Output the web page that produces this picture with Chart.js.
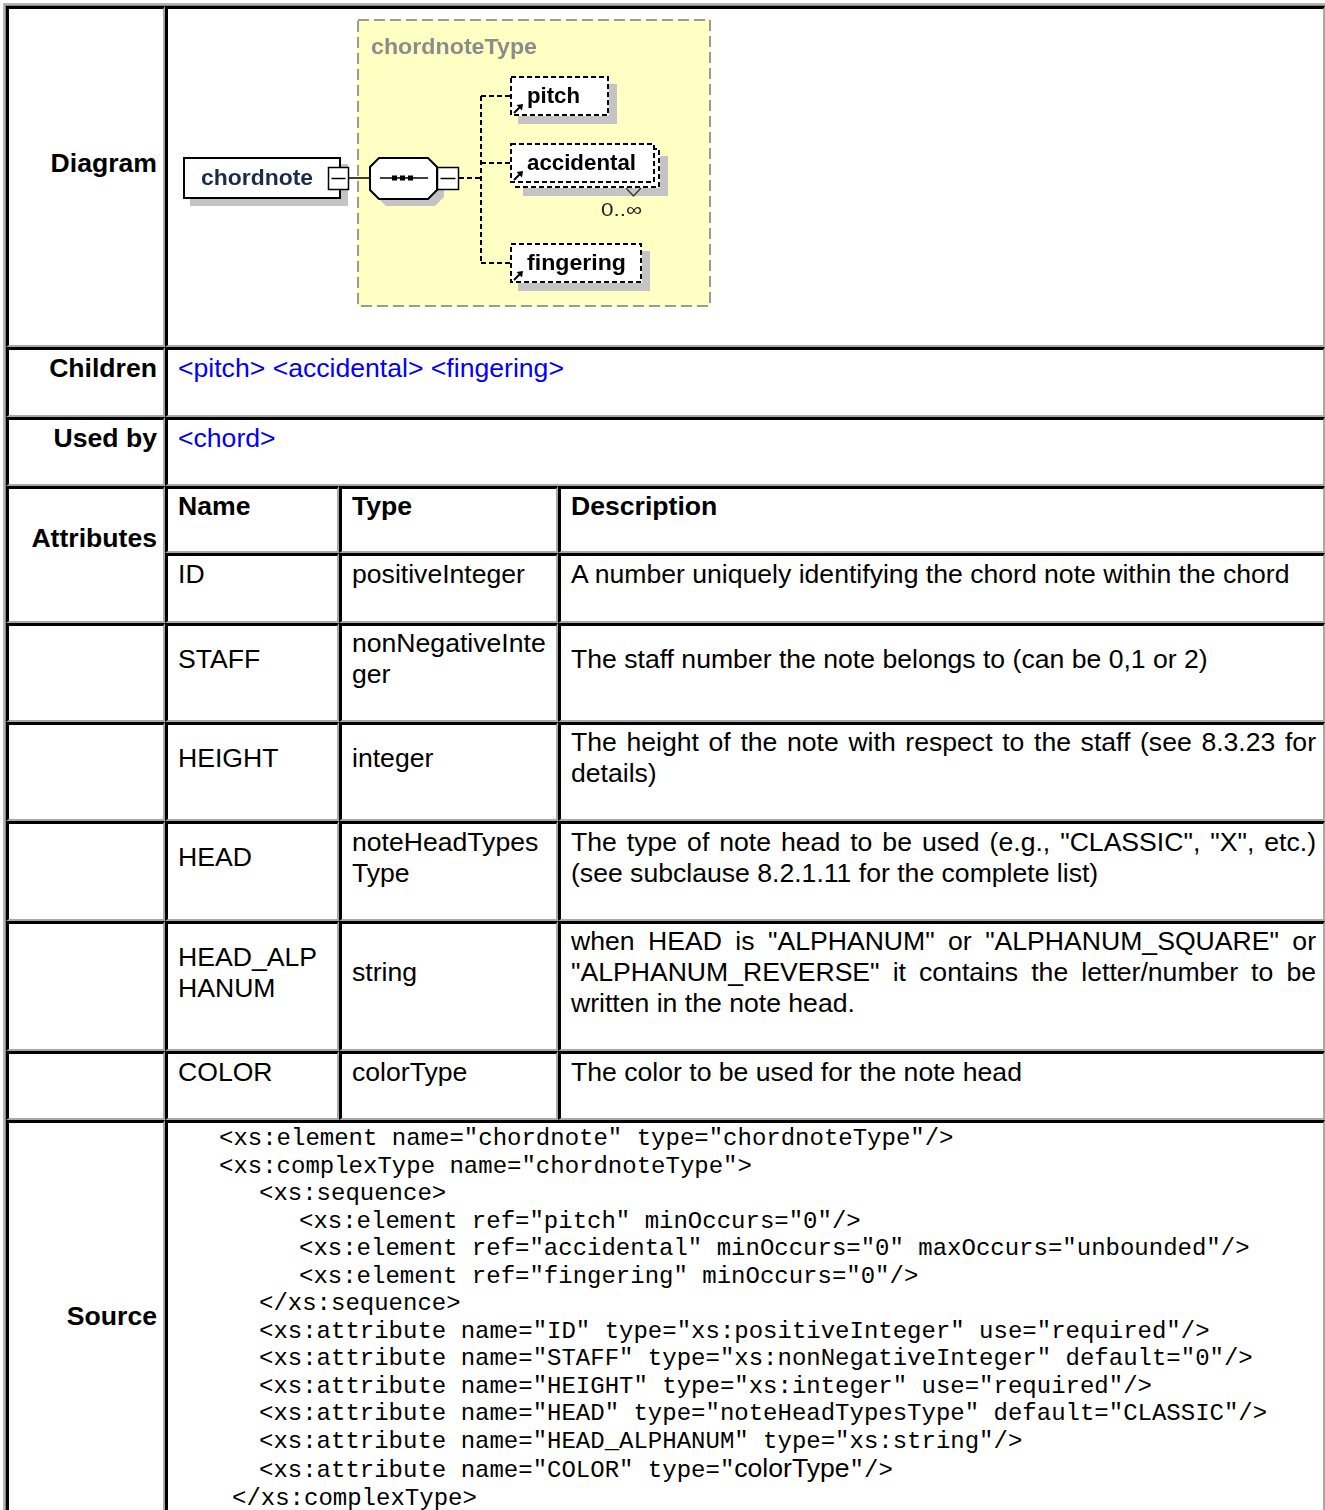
<!DOCTYPE html>
<html>
<head>
<meta charset="utf-8">
<script src="https://cdn.jsdelivr.net/npm/chart.js@4.4.0/dist/chart.umd.min.js"></script>
<style>
  html, body { margin: 0; padding: 0; overflow: hidden; background: #fff; }
  body { width: 1325px; height: 1510px; position: relative; }
  .frame1 { position: absolute; left: 3px; top: 3px; width: 1400px; height: 1600px; border-top: 2px solid #b4b4b4; border-left: 2px solid #b4b4b4; }
  .frame2 { position: absolute; left: 5px; top: 5px; width: 1400px; height: 1600px; border-top: 1px solid #808080; border-left: 1px solid #808080; }
  .c {
    position: absolute; box-sizing: border-box;
    border-top: 3px solid #000; border-left: 3px solid #000;
    border-right: 2px solid #a8a8a8; border-bottom: 2px solid #a8a8a8;
    display: flex; align-items: center;
    padding: 0 8px 28px 10px;
    font-family: "Liberation Sans", Arial, sans-serif; font-size: 26.6px; color: #000;
  }
  .c > div { width: 100%; }
  .lab { justify-content: flex-end; font-weight: bold; padding-right: 6px; }
  .lab > div { width: auto; }
  .tall { padding-bottom: 34px; }
  .head { font-weight: bold; }
  .desc { padding-right: 7px; }
  .j { text-align: justify; text-align-last: justify; }
  .link { color: #0000ff; }
  .code { padding-top: 4px; }
  .src { font-family: "Liberation Mono", "Courier New", monospace; font-size: 24px; line-height: 27.5px; white-space: pre; }
  .sans { font-family: "Liberation Sans", Arial, sans-serif; font-size: 26.6px; }
  #diagram { position: absolute; left: 170px; top: 10px; z-index: 2; }
</style>
</head>
<body>
<div class="frame1"></div>
<div class="frame2"></div>
<canvas id="diagram" width="560" height="330"></canvas>
<script>
// Element documentation for <chordnote>
const elementName = 'chordnote'
const typeName = 'chordnoteType'
const childNames = ['pitch', 'accidental', 'fingering']
const childOccurs = ['', '0..\u221e', '']
const usedBy = ['chord']

const attrNames = [['ID'], ['STAFF'], ['HEIGHT'], ['HEAD'], ['HEAD_ALP', 'HANUM'], ['COLOR']]
const attrTypes = [['positiveInteger'], ['nonNegativeInte', 'ger'], ['integer'], ['noteHeadTypes', 'Type'], ['string'], ['colorType']]
const attrDescs = [
  ['A number uniquely identifying the chord note within the chord'],
  ['The staff number the note belongs to (can be 0,1 or 2)'],
  ['The height of the note with respect to the staff (see 8.3.23 for', 'details)'],
  ['The type of note head to be used (e.g., "CLASSIC", "X", etc.)', '(see subclause 8.2.1.11 for the complete list)'],
  ['when HEAD is "ALPHANUM" or "ALPHANUM_SQUARE" or', '"ALPHANUM_REVERSE" it contains the letter/number to be', 'written in the note head.'],
  ['The color to be used for the note head']
]

const sourceLines = [
  '<xs:element name="chordnote" type="chordnoteType"/>',
  '<xs:complexType name="chordnoteType">',
  '<xs:sequence>',
  '<xs:element ref="pitch" minOccurs="0"/>',
  '<xs:element ref="accidental" minOccurs="0" maxOccurs="unbounded"/>',
  '<xs:element ref="fingering" minOccurs="0"/>',
  '</xs:sequence>',
  '<xs:attribute name="ID" type="xs:positiveInteger" use="required"/>',
  '<xs:attribute name="STAFF" type="xs:nonNegativeInteger" default="0"/>',
  '<xs:attribute name="HEIGHT" type="xs:integer" use="required"/>',
  '<xs:attribute name="HEAD" type="noteHeadTypesType" default="CLASSIC"/>',
  '<xs:attribute name="HEAD_ALPHANUM" type="xs:string"/>',
  '<xs:attribute name="COLOR" type="colorType"/>',
  '</xs:complexType>'
]
const sourceDepth = [1, 1, 2, 3, 3, 3, 2, 2, 2, 2, 2, 2, 2, 0]

// layout of the table
const rowTop = [6, 347, 417, 486, 553, 623, 722, 821, 921, 1051, 1120, 1540]
const colA = [6, 165]
const colB = [165, 1325]
const attrCols = [165, 339, 558, 1325]
const indentPx = { 0: 54, 1: 41, 2: 81, 3: 121 }

function esc (s) {
  return s.replace(/&/g, '&amp;').replace(/</g, '&lt;').replace(/>/g, '&gt;')
}

function cell (x1, y1, x2, y2, html, cls) {
  const d = document.createElement('div')
  d.className = 'c ' + (cls || '')
  d.style.left = x1 + 'px'
  d.style.top = y1 + 'px'
  d.style.width = (x2 - x1) + 'px'
  d.style.height = (y2 - y1) + 'px'
  d.innerHTML = '<div>' + html + '</div>'
  document.body.appendChild(d)
  return d
}

function lines (arr, justify) {
  return arr.map((t, i) => {
    const j = justify && i < arr.length - 1 ? ' class="j"' : ''
    return '<div' + j + '>' + esc(t) + '</div>'
  }).join('')
}

// Diagram row
cell(colA[0], rowTop[0], colA[1], rowTop[1], 'Diagram', 'lab')
cell(colB[0], rowTop[0], colB[1], rowTop[1], '')

// Children / Used by
cell(colA[0], rowTop[1], colA[1], rowTop[2], 'Children', 'lab')
cell(colB[0], rowTop[1], colB[1], rowTop[2],
  childNames.map(n => '<span class="link">' + esc('<' + n + '>') + '</span>').join(' '))
cell(colA[0], rowTop[2], colA[1], rowTop[3], 'Used by', 'lab')
cell(colB[0], rowTop[2], colB[1], rowTop[3],
  usedBy.map(n => '<span class="link">' + esc('<' + n + '>') + '</span>').join(' '))

// Attributes
cell(colA[0], rowTop[3], colA[1], rowTop[5], 'Attributes', 'lab tall')
const headers = ['Name', 'Type', 'Description']
headers.forEach((h, i) => cell(attrCols[i], rowTop[3], attrCols[i + 1], rowTop[4], h, 'head'))
attrNames.forEach((name, r) => {
  const y1 = rowTop[4 + r]
  const y2 = rowTop[5 + r]
  if (r > 0) cell(colA[0], y1, colA[1], y2, '')
  cell(attrCols[0], y1, attrCols[1], y2, lines(name))
  cell(attrCols[1], y1, attrCols[2], y2, lines(attrTypes[r]))
  cell(attrCols[2], y1, attrCols[3], y2, lines(attrDescs[r], true), 'desc')
})

// Source
cell(colA[0], rowTop[10], colA[1], rowTop[11], 'Source', 'lab')
const srcHtml = sourceLines.map((l, i) => {
  let body = esc(l)
  if (l.indexOf('"colorType"') >= 0) {
    const parts = l.split('colorType')
    body = esc(parts[0]) + '<span class="sans">colorType</span>' + esc(parts[1])
  }
  return '<div class="src" style="margin-left:' + indentPx[sourceDepth[i]] + 'px">' + body + '</div>'
}).join('')
cell(colB[0], rowTop[10], colB[1], rowTop[11], srcHtml, 'code')

// ---- schema diagram drawn on a Chart.js canvas ----
const SANS = '"Liberation Sans", Arial, sans-serif'

function fitText (ctx, text, x, y, width, font, color) {
  ctx.save()
  ctx.font = font
  ctx.fillStyle = color
  ctx.textBaseline = 'alphabetic'
  const w = ctx.measureText(text).width
  ctx.translate(x, y)
  ctx.scale(width / w, 1)
  ctx.fillText(text, 0, 0)
  ctx.restore()
}

const diagramPlugin = {
  id: 'xsdDiagram',
  afterDraw (chart) {
    const { ctx } = chart
    const sx = chart.scales.x
    const sy = chart.scales.y
    const px = v => sx.getPixelForValue(v)
    const py = v => sy.getPixelForValue(v)
    const rect = (x1, y1, x2, y2) => [px(x1), py(y1), px(x2) - px(x1), py(y2) - py(y1)]
    const shadow = '#c4c4c4'

    ctx.save()
    // complex type box
    ctx.fillStyle = '#ffffc4'
    ctx.fillRect(...rect(357, 19, 711, 307))
    ctx.setLineDash([11, 5])
    ctx.lineWidth = 2
    ctx.strokeStyle = '#9a9a9a'
    ctx.strokeRect(...rect(358, 20, 710, 306))
    ctx.setLineDash([])
    fitText(ctx, typeName, px(371), py(54), 166, 'bold 22px ' + SANS, '#8c8c8c')

    // element box
    ctx.fillStyle = shadow
    ctx.fillRect(...rect(190, 164, 348, 206))
    ctx.fillStyle = '#fff'
    ctx.fillRect(...rect(183, 157, 341, 199))
    ctx.lineWidth = 2
    ctx.strokeStyle = '#000'
    ctx.strokeRect(...rect(184, 158, 340, 198))
    fitText(ctx, elementName, px(201), py(184.5), 112, 'bold 22px ' + SANS, '#1c2c48')

    const minusBox = (x1, y1, x2, y2) => {
      ctx.fillStyle = '#fff'
      ctx.fillRect(...rect(x1, y1, x2, y2))
      ctx.lineWidth = 1.5
      ctx.strokeStyle = '#000'
      ctx.strokeRect(...rect(x1, y1, x2, y2))
      ctx.beginPath()
      ctx.moveTo(px(x1 + 3), py((y1 + y2) / 2))
      ctx.lineTo(px(x2 - 3), py((y1 + y2) / 2))
      ctx.stroke()
    }
    minusBox(328.5, 167.5, 348.5, 189.5)

    // connector to sequence
    ctx.lineWidth = 1.5
    ctx.beginPath()
    ctx.moveTo(px(348), py(178))
    ctx.lineTo(px(371), py(178))
    ctx.stroke()

    // sequence octagon
    const oct = (dx, dy) => {
      const l = 370 + dx, r = 437 + dx, t = 158 + dy, b = 199 + dy, k = 9
      ctx.beginPath()
      ctx.moveTo(px(l + k), py(t))
      ctx.lineTo(px(r - k), py(t))
      ctx.lineTo(px(r), py(t + k))
      ctx.lineTo(px(r), py(b - k))
      ctx.lineTo(px(r - k), py(b))
      ctx.lineTo(px(l + k), py(b))
      ctx.lineTo(px(l), py(b - k))
      ctx.lineTo(px(l), py(t + k))
      ctx.closePath()
    }
    oct(7, 7)
    ctx.fillStyle = shadow
    ctx.fill()
    oct(0, 0)
    ctx.fillStyle = '#fff'
    ctx.fill()
    ctx.lineWidth = 2
    ctx.strokeStyle = '#000'
    ctx.stroke()
    ctx.lineWidth = 1.5
    ctx.beginPath()
    ctx.moveTo(px(380), py(178))
    ctx.lineTo(px(428), py(178))
    ctx.stroke()
    ctx.fillStyle = '#000'
    ;[392, 400, 408].forEach(d => ctx.fillRect(...rect(d, 175.5, d + 5, 180.5)))
    minusBox(437.5, 167.5, 458.5, 189.5)

    // dashed tree lines
    const childTop = [76, 143, 243]
    const childRight = [609, 655, 642]
    const boxH = 40
    ctx.setLineDash([5, 3])
    ctx.lineWidth = 2
    ctx.strokeStyle = '#000'
    ctx.beginPath()
    ctx.moveTo(px(459), py(178))
    ctx.lineTo(px(481), py(178))
    ctx.moveTo(px(481), py(childTop[0] + boxH / 2))
    ctx.lineTo(px(481), py(childTop[2] + boxH / 2))
    childTop.forEach(t => {
      ctx.moveTo(px(481), py(t + boxH / 2))
      ctx.lineTo(px(510), py(t + boxH / 2))
    })
    ctx.stroke()
    ctx.setLineDash([])

    // child element boxes
    childNames.forEach((name, i) => {
      const t = childTop[i]
      const r = childRight[i]
      const many = childOccurs[i] !== ''
      const off = many ? 5 : 0
      ctx.fillStyle = shadow
      ctx.fillRect(...rect(518 + off, t + 8 + off, r + 8 + off, t + boxH + 8 + off))
      const dashedBox = (x1, y1, x2, y2) => {
        ctx.fillStyle = '#fff'
        ctx.fillRect(...rect(x1, y1, x2, y2))
        ctx.setLineDash([5, 3])
        ctx.lineWidth = 2
        ctx.strokeStyle = '#000'
        ctx.strokeRect(...rect(x1 + 1, y1 + 1, x2 - 1, y2 - 1))
        ctx.setLineDash([])
      }
      if (many) dashedBox(510 + off, t + off, r + off, t + boxH + off)
      dashedBox(510, t, r, t + boxH)
      // reference arrow
      ctx.lineWidth = 2
      ctx.strokeStyle = '#000'
      ctx.beginPath()
      ctx.moveTo(px(514), py(t + boxH - 3))
      ctx.lineTo(px(520), py(t + boxH - 9))
      ctx.stroke()
      ctx.fillStyle = '#000'
      ctx.beginPath()
      ctx.moveTo(px(523), py(t + boxH - 12))
      ctx.lineTo(px(516.5), py(t + boxH - 11))
      ctx.lineTo(px(522), py(t + boxH - 5.5))
      ctx.closePath()
      ctx.fill()
      const widths = { pitch: 53, accidental: 109, fingering: 99 }
      fitText(ctx, name, px(527), py(t + 26.5), widths[name], 'bold 22px ' + SANS, '#000')
      if (many) {
        ctx.lineWidth = 1.2
        ctx.strokeStyle = '#333'
        ctx.beginPath()
        ctx.moveTo(px(626), py(t + boxH + 5))
        ctx.lineTo(px(633.5), py(t + boxH + 13))
        ctx.lineTo(px(641), py(t + boxH + 5))
        ctx.stroke()
        fitText(ctx, childOccurs[i], px(601), py(t + boxH + 33), 41, '19px ' + SANS, '#222')
      }
    })
    ctx.restore()
  }
}

new Chart(document.getElementById('diagram'), {
  type: 'scatter',
  data: { datasets: [{ data: [] }] },
  options: {
    responsive: false,
    animation: false,
    events: [],
    layout: { padding: 0 },
    plugins: { legend: { display: false }, tooltip: { enabled: false } },
    scales: {
      x: { type: 'linear', display: false, min: 170, max: 730 },
      y: { type: 'linear', display: false, min: 10, max: 340, reverse: true }
    }
  },
  plugins: [diagramPlugin]
})
</script>
</body>
</html>
